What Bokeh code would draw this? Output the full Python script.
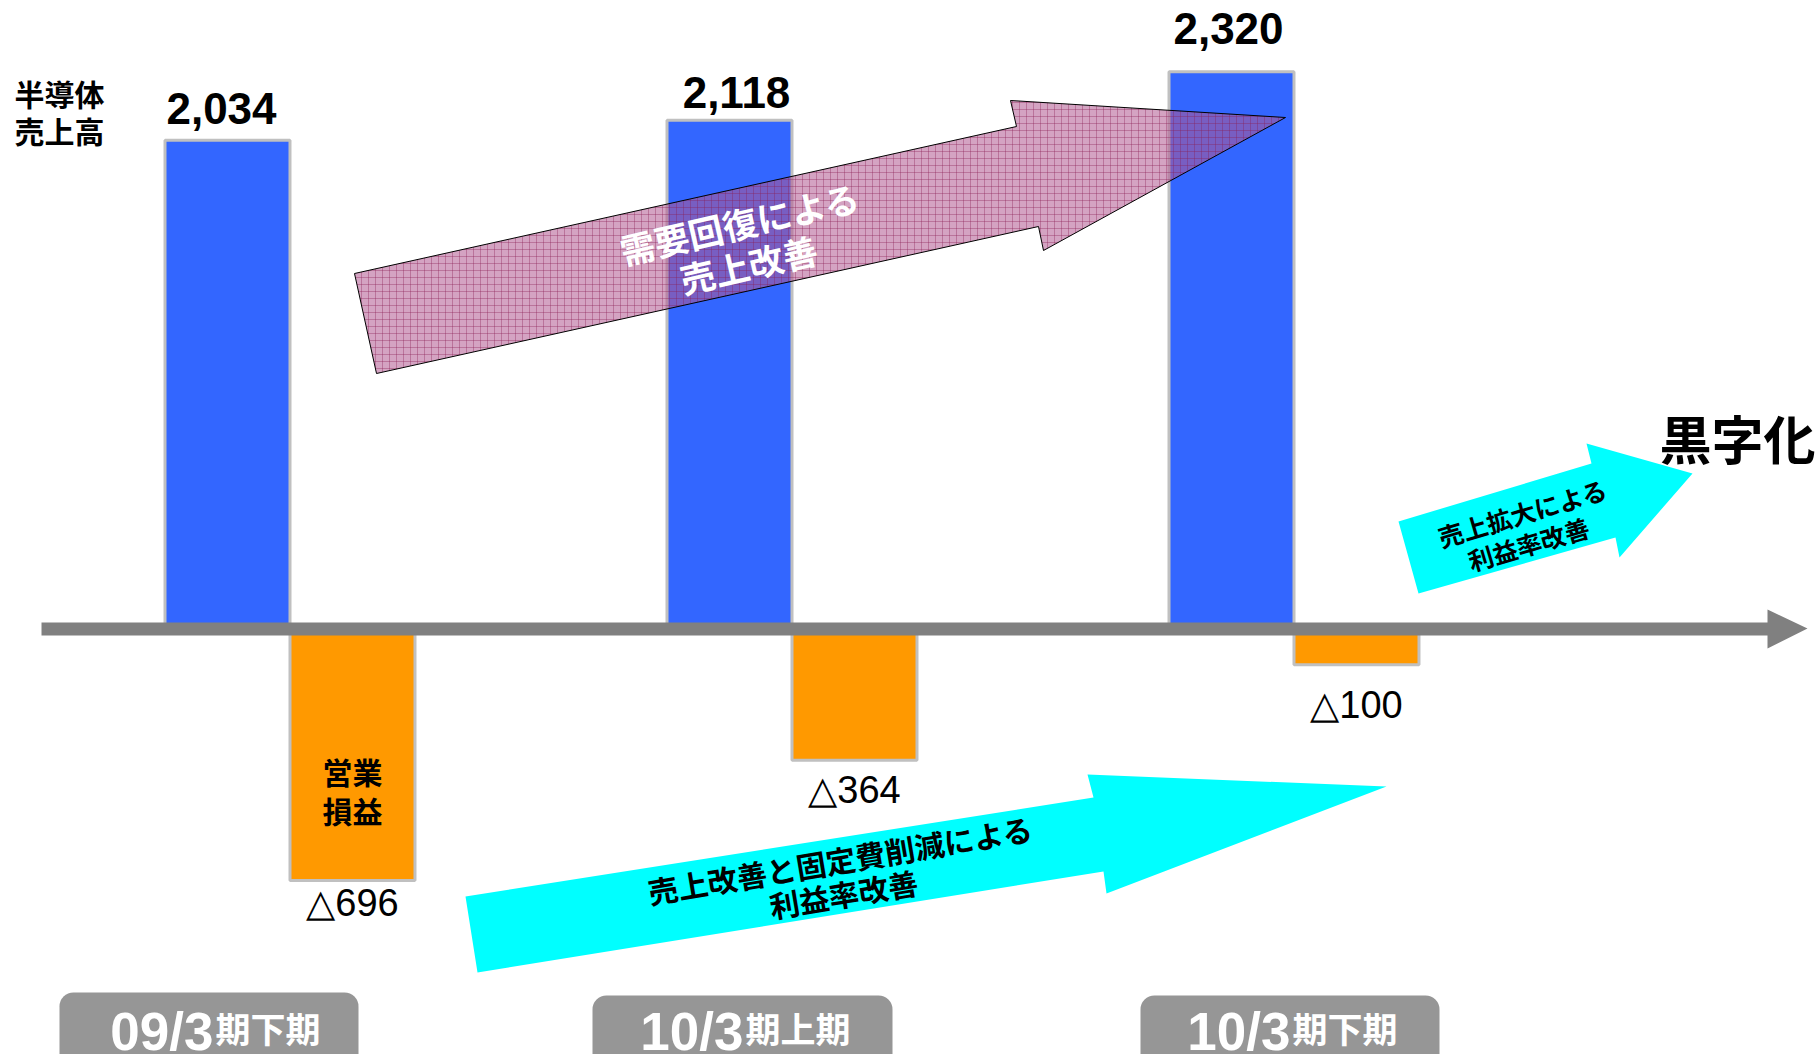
import numpy as np
from bokeh.plotting import figure
from bokeh.models import Range1d, ColumnDataSource, BoxAnnotation
from bokeh.core.properties import value
from bokeh.embed import file_html
from bokeh.resources import INLINE

# ---------------- data ----------------
period_main = ["09/3", "10/3", "10/3"]
period_suffix = ["期下期", "期上期", "期下期"]
sales = [2034, 2118, 2320]            # 半導体売上高
op_profit = [-696, -364, -100]        # 営業損益
sales_labels = ["2,034", "2,118", "2,320"]
profit_labels = ["△696", "△364", "△100"]

# ---------------- layout (pixels of the reference picture) ----------------
W, H = 1818, 1054
PXX = (0, W)
PXY = (0, H)
ZERO_Y = 628
X0, DX = 289.5, 502.0
SALES_PX = 0.240
PROFIT_PX = 0.362
BAR_W = 0.249
BASE_FIX = 18                      # alphabetic baseline correction (px)
sales_gap = [14 + BASE_FIX, 10 + BASE_FIX, 25 + BASE_FIX]
sales_dx = [-6, 7, -3]
profit_gap = [23, 30, 40]

JP = value("Noto Sans CJK JP")
NUM = value("Liberation Sans")


def ny(ys):
    return [-y for y in ys]


idx = np.arange(len(sales))

p = figure(width=W, height=H, output_backend="svg", toolbar_location=None,
           x_range=Range1d((PXX[0] - X0) / DX, (PXX[1] - X0) / DX),
           y_range=Range1d(-(PXY[1] - ZERO_Y) / SALES_PX, (ZERO_Y - PXY[0]) / SALES_PX),
           x_axis_location=None, y_axis_location=None, min_border=0,
           outline_line_color=None, background_fill_color="white",
           border_fill_color="white")
p.extra_y_ranges = {
    "profit": Range1d(-(PXY[1] - ZERO_Y) / PROFIT_PX, (ZERO_Y - PXY[0]) / PROFIT_PX),
    "px": Range1d(-PXY[1], -PXY[0]),
}
p.extra_x_ranges = {"px": Range1d(*PXX)}
p.grid.visible = False

src = ColumnDataSource(dict(
    xs=idx - BAR_W / 2, xp=idx + BAR_W / 2,
    sales=sales, profit=op_profit,
    slab=sales_labels, plab=profit_labels,
    sgap=[-g for g in sales_gap], sdx=sales_dx, pgap=profit_gap,
))

# period boxes (underlay)
boxes = [(59, 358, 992), (592, 892, 995), (1140, 1439, 995)]
for (l, r, t) in boxes:
    p.add_layout(BoxAnnotation(left=l, right=r, top=-t, bottom=-1080,
                               x_range_name="px", y_range_name="px", level="underlay",
                               fill_color="#969696", fill_alpha=1, line_color=None,
                               border_radius=14))

# bars
p.vbar(x="xs", width=BAR_W, top="sales", bottom=0, source=src,
       fill_color="#3366ff", line_color="#c0c0c0", line_width=3)
p.vbar(x="xp", width=BAR_W, top=0, bottom="profit", source=src, y_range_name="profit",
       fill_color="#ff9900", line_color="#c0c0c0", line_width=3)

# pink arrow (需要回復による売上改善)
p.patch([354, 1016, 1010, 1285, 1043, 1038, 376], ny([273, 126, 100, 117, 250, 226, 373]),
        x_range_name="px", y_range_name="px",
        fill_color="#b05890", fill_alpha=0.55, line_color="black", line_width=1,
        hatch_pattern="+", hatch_color="#8a1c52", hatch_alpha=0.35, hatch_scale=7,
        hatch_weight=1)

# horizontal axis arrow
p.patch([41, 1767, 1767, 1807, 1767, 1767, 41], ny([622, 622, 609, 628, 648, 635, 635]),
        x_range_name="px", y_range_name="px",
        fill_color="#808080", line_color=None)

# cyan arrows
p.patch([465, 1093, 1087, 1386, 1106, 1103, 477], ny([896, 797, 774, 786, 893, 871, 972]),
        x_range_name="px", y_range_name="px", fill_color="#00ffff", line_color=None)
p.patch([1398, 1591, 1586, 1692, 1619, 1615, 1418], ny([521, 463, 443, 473, 557, 537, 593]),
        x_range_name="px", y_range_name="px", fill_color="#00ffff", line_color=None)

# value labels
p.text(x="xs", y="sales", text="slab", source=src, y_offset="sgap", x_offset="sdx",
       text_align="center", text_baseline="alphabetic",
       text_font=NUM, text_font_style="bold", text_font_size="44px", text_color="black")
p.text(x="xp", y="profit", text="plab", source=src, y_offset="pgap", y_range_name="profit",
       text_align="center", text_baseline="alphabetic",
       text_font=NUM, text_font_size="38px", text_color="black")


def label(x, y, t, size, color="black", angle=0.0, align="center", font=JP, style="bold",
          baseline="middle"):
    p.text(x=[x], y=[-y], text=[t], x_range_name="px", y_range_name="px",
           angle=np.deg2rad(angle), text_align=align, text_baseline=baseline,
           text_font=font, text_font_style=style, text_font_size=f"{size}px",
           text_color=color)


label(14, 92, "半導体", 30, align="left")
label(14, 129, "売上高", 30, align="left")
label(352, 770, "営業", 30)
label(352, 809, "損益", 30)
label(739, 222, "需要回復による", 35, color="white", angle=13)
label(748, 263, "売上改善", 35, color="white", angle=13)
label(840, 859, "売上改善と固定費削減による", 30, angle=9.5)
label(843, 893, "利益率改善", 30, angle=9.5)
label(1522, 512, "売上拡大による", 25, angle=16.5)
label(1528, 543, "利益率改善", 25, angle=16.5)
label(1737, 437, "黒字化", 52)

# period labels
splits = [213, 743, 1290]
for s, a, b in zip(splits, period_main, period_suffix):
    label(s, 1049 - BASE_FIX, a, 53, color="white", align="right", font=NUM,
          baseline="alphabetic")
    label(s + 2, 1045 - BASE_FIX, b, 35, color="white", align="left", baseline="alphabetic")

open("out.html", "w").write(file_html(p, INLINE))
